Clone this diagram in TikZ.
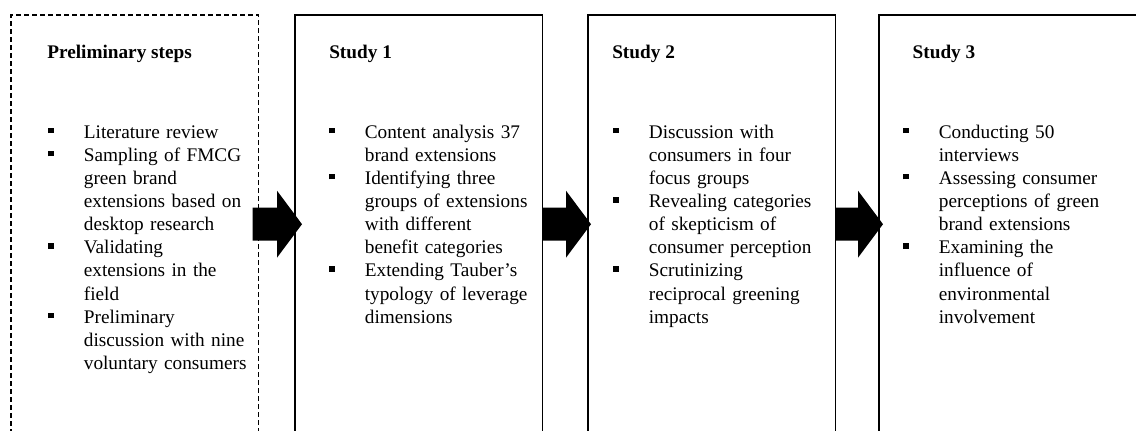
\documentclass[tikz,border=0pt]{standalone}
\usepackage{fontspec}
\setmainfont{Liberation Serif}
\usetikzlibrary{calc}

% 列表项: 方形项目符号 + 悬挂缩进
\newcommand{\itm}[1]{\par\noindent\hangindent=0.89cm\hangafter=1\makebox[0.89cm][l]{\rule[3.6pt]{3.9pt}{3.9pt}}\strut#1\par}

\begin{document}
\begin{tikzpicture}[
    font=\fontsize{13.7pt}{16.45pt}\selectfont,
    % 定义统一的框样式
    boxbase/.style={minimum width=6.19cm, minimum height=10.46cm, inner sep=0, outer sep=0, anchor=north west},
    prelimbox/.style={draw, line width=0.8pt, dash pattern=on 0.125cm off 0.075cm},
    studybox/.style={draw, line width=1pt},
    itemlist/.style={anchor=north west, inner sep=0, text width=5.2cm, align=left}
]
    \useasboundingbox (0,0) rectangle (28.4,10.775);
    \clip (0,0) rectangle (28.4,10.775);

    % --- 绘制宏 ---
    % #1 名称, #2 左边 x, #3 样式, #4 标题, #5 标题偏移, #6 列表偏移, #7 列表
    \newcommand{\stagebox}[7]{
        \node[boxbase, #3] (#1) at (#2,10.4) {};
        \node[anchor=base west, inner sep=0] (#1-title) at ($(#1.north west)+(#5,-1.1)$) {\textbf{#4}};
        \node[itemlist] (#1-list) at ($(#1.north west)+(#6,-2.495)$) {#7};
    }
    % 粗箭头: #1 起点框, #2 终点框, #3 起点偏移, #4 箭尖偏移
    \newcommand{\bigarrow}[4]{
        \fill let \p1=($(#1.east)+(#3,0)$), \p2=($(#2.west)+(#4,0)$) in
            (\x1,\y1+0.4125cm) -- (\x2-0.625cm,\y1+0.4125cm) -- (\x2-0.625cm,\y1+0.8375cm)
            -- (\x2,\y1) -- (\x2-0.625cm,\y1-0.8375cm) -- (\x2-0.625cm,\y1-0.4125cm)
            -- (\x1,\y1-0.4125cm) -- cycle;
    }

    % --- 四个阶段 ---
    \stagebox{prelim}{0.275}{prelimbox}{Preliminary steps}{0.9}{0.925}{%
        \itm{Literature review}
        \itm{Sampling of FMCG\newline green brand\newline extensions based on\newline desktop research}
        \itm{Validating\newline extensions in the\newline field}
        \itm{Preliminary\newline discussion with nine\newline voluntary consumers}}

    \stagebox{study1}{7.375}{studybox}{Study 1}{0.85}{0.85}{%
        \itm{Content analysis 37\newline brand extensions}
        \itm{Identifying three\newline groups of extensions\newline with different\newline benefit categories}
        \itm{Extending Tauber’s\newline typology of leverage\newline dimensions}}

    \stagebox{study2}{14.7}{studybox}{Study 2}{0.6}{0.625}{%
        \itm{Discussion with\newline consumers in four\newline focus groups}
        \itm{Revealing categories\newline of skepticism of\newline consumer perception}
        \itm{Scrutinizing\newline reciprocal greening\newline impacts}}

    % 最后一个框超出右边界
    \stagebox{study3}{21.975}{studybox, minimum width=7cm}{Study 3}{0.835}{0.6}{%
        \itm{Conducting 50\newline interviews}
        \itm{Assessing consumer\newline perceptions of green\newline brand extensions}
        \itm{Examining the\newline influence of\newline environmental\newline involvement}}

    % --- 箭头 ---
    \bigarrow{prelim}{study1}{-0.15}{0.175}
    \bigarrow{study1}{study2}{0}{0.075}
    \bigarrow{study2}{study3}{0}{0.1}

\end{tikzpicture}
\end{document}
